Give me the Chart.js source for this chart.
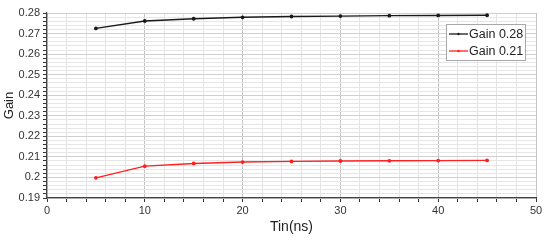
<!DOCTYPE html>
<html>
<head>
<meta charset="utf-8">
<script src="https://cdn.jsdelivr.net/npm/chart.js@4"></script>
<style>
  html, body { margin: 0; padding: 0; background: #fff; }
  #wrap { width: 550px; height: 241px; }
</style>
</head>
<body>
<div id="wrap"><canvas id="gainChart" width="550" height="241"></canvas></div>
<script>
// values
const tin = [5, 10, 15, 20, 25, 30, 35, 40, 45];
const gain028 = [0.2725, 0.2761, 0.2772, 0.2779, 0.2783, 0.2785, 0.2787, 0.2788, 0.2789];
const gain021 = [0.1998, 0.2055, 0.2068, 0.2075, 0.2078, 0.2080, 0.2081, 0.2082, 0.2083];
const seriesLabels = ['Gain 0.28', 'Gain 0.21'];

const FONT = 'Liberation Sans, Arial, sans-serif';

// legend drawn as a framed box inside the plot, like the original
const boxLegend = {
    id: 'boxLegend',
    afterDraw(chart) {
        const ctx = chart.ctx;
        const x = 446, y = 24, w = 79, h = 36;
        ctx.save();
        ctx.fillStyle = '#ffffff';
        ctx.fillRect(x, y, w, h);
        ctx.strokeStyle = '#a8a8a8';
        ctx.lineWidth = 1;
        ctx.strokeRect(x + 0.5, y + 0.5, w, h);
        ctx.font = '12.5px ' + FONT;
        ctx.textBaseline = 'middle';
        chart.data.datasets.forEach((ds, i) => {
            const ly = y + 10 + i * 17;
            ctx.strokeStyle = ds.borderColor;
            ctx.lineWidth = 1.3;
            ctx.beginPath();
            ctx.moveTo(x + 3, ly);
            ctx.lineTo(x + 22, ly);
            ctx.stroke();
            ctx.fillStyle = ds.borderColor;
            ctx.beginPath();
            ctx.arc(x + 12.5, ly, 1.2, 0, Math.PI * 2);
            ctx.fill();
            ctx.fillStyle = '#222';
            ctx.fillText(ds.label, x + 23, ly + 1);
        });
        ctx.restore();
    }
};

const isMajorY = v => Math.round(v * 1000) % 10 === 0;
const isMajorX = v => Math.round(v) % 10 === 0;

new Chart(document.getElementById('gainChart').getContext('2d'), {
    type: 'scatter',
    data: {
        datasets: [
            {
                label: seriesLabels[0],
                data: tin.map((t, i) => ({ x: t, y: gain028[i] })),
                showLine: true,
                borderColor: '#1a1a1a',
                backgroundColor: '#1a1a1a',
                borderWidth: 1.4,
                pointRadius: 1.2,
                tension: 0
            },
            {
                label: seriesLabels[1],
                data: tin.map((t, i) => ({ x: t, y: gain021[i] })),
                showLine: true,
                borderColor: '#ff2020',
                backgroundColor: '#ff2020',
                borderWidth: 1.4,
                pointRadius: 1.2,
                tension: 0
            }
        ]
    },
    options: {
        responsive: false,
        animation: false,
        layout: { padding: { top: 13, right: 14, left: 0, bottom: 0 } },
        plugins: {
            legend: { display: false },
            tooltip: { enabled: false }
        },
        scales: {
            x: {
                type: 'linear',
                min: 0, max: 50,
                afterFit: s => { s.height = 43; },
                border: { color: '#444', width: 1.2 },
                grid: {
                    color: c => isMajorX(c.tick.value) ? '#c4c4c4' : '#e4e4e4',
                    tickColor: '#333',
                    tickLength: 4
                },
                ticks: {
                    stepSize: 2,
                    autoSkip: false,
                    maxRotation: 0,
                    padding: 2,
                    color: '#333',
                    font: { family: FONT, size: 11 },
                    callback: v => isMajorX(v) ? String(Math.round(v)) : ''
                },
                title: {
                    display: true,
                    text: 'Tin(ns)',
                    color: '#222',
                    font: { family: FONT, size: 14 },
                    padding: { top: 0, bottom: 5 }
                }
            },
            y: {
                min: 0.19, max: 0.28,
                afterFit: s => { s.width = 47; },
                border: { color: '#444', width: 1.2 },
                grid: {
                    color: c => isMajorY(c.tick.value) ? '#cfcfcf' : '#e6e6e6',
                    tickColor: '#333',
                    tickLength: 4
                },
                ticks: {
                    stepSize: 0.002,
                    autoSkip: false,
                    padding: 3,
                    color: '#333',
                    font: { family: FONT, size: 11 },
                    callback: v => isMajorY(v) ? String(Math.round(v * 1000) / 1000) : ''
                },
                title: {
                    display: true,
                    text: 'Gain',
                    color: '#222',
                    font: { family: FONT, size: 13 },
                    padding: { top: 2, bottom: 0 }
                }
            }
        }
    },
    plugins: [boxLegend]
});
</script>
</body>
</html>
